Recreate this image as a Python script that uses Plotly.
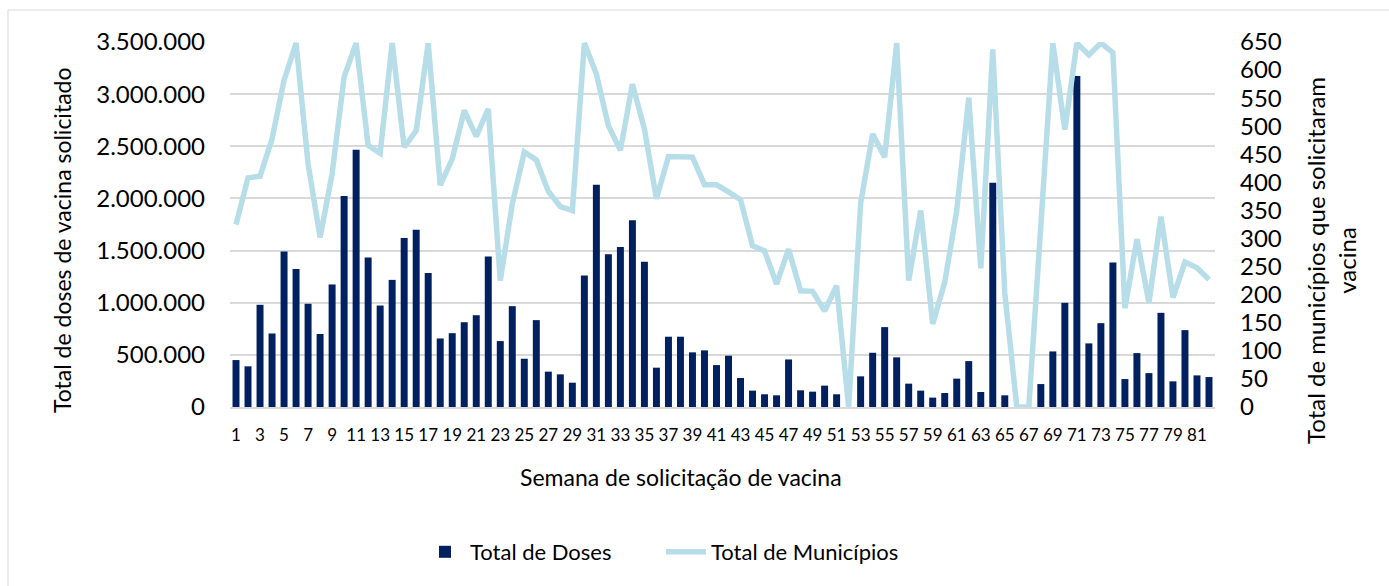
import plotly.graph_objects as go

weeks = list(range(1, 83))

total_doses = [
    450000, 390000, 980000, 705000, 1490000, 1324000, 990000, 700000, 1175000, 2023000,
    2466000, 1433000, 973000, 1219000, 1621000, 1700000, 1286000, 657000, 708000, 813000,
    880000, 1442000, 632000, 967000, 463000, 833000, 339000, 313000, 233000, 1260000,
    2131000, 1464000, 1535000, 1790000, 1394000, 377000, 674000, 674000, 524000, 543000,
    402000, 492000, 278000, 157000, 122000, 112000, 456000, 160000, 147000, 205000,
    122000, 0, 294000, 520000, 766000, 476000, 224000, 157000, 90000, 134000,
    272000, 440000, 144000, 2150000, 112000, 0, 0, 220000, 533000, 999000,
    3174000, 610000, 804000, 1385000, 268000, 517000, 325000, 903000, 246000, 737000,
    303000, 287000,
]

total_municipios = [
    325, 408, 411, 477, 582, 648, 433, 302, 415, 588,
    648, 466, 452, 648, 463, 492, 648, 395, 442, 528,
    482, 531, 225, 362, 454, 440, 384, 357, 350, 648,
    593, 501, 457, 575, 495, 371, 446, 446, 445, 396,
    396, 383, 369, 287, 278, 219, 281, 207, 206, 171,
    216, 0, 363, 486, 445, 648, 225, 350, 148, 222,
    350, 551, 247, 637, 203, 0, 0, 323, 648, 494,
    648, 627, 648, 631, 176, 299, 186, 339, 195, 258,
    248, 227,
]

left_ticks = [0, 500000, 1000000, 1500000, 2000000, 2500000, 3000000, 3500000]
left_labels = ["0", "500.000", "1.000.000", "1.500.000", "2.000.000", "2.500.000", "3.000.000", "3.500.000"]
right_ticks = list(range(0, 651, 50))
x_ticks = list(range(1, 82, 2))

FONT = "Lato"
BAR_COLOR = "#002060"
LINE_COLOR = "#b7dee8"

fig = go.Figure()
fig.add_trace(go.Bar(
    x=weeks, y=total_doses, name="Total de Doses",
    marker=dict(color=BAR_COLOR, line=dict(width=0)),
    yaxis="y",
))
fig.add_trace(go.Scatter(
    x=weeks, y=total_municipios, name="Total de Municípios",
    mode="lines", line=dict(color=LINE_COLOR, width=5.5),
    yaxis="y2",
))

W, H = 1389, 586
L, R, T, B = 230, 174, 42, 179
pw, ph = W - L - R, H - T - B

def px_x(x):
    return (x - L) / pw

def px_y(y):
    return (H - B - y) / ph

fig.update_layout(
    width=W, height=H,
    margin=dict(l=L, r=R, t=T, b=B, autoexpand=False),
    paper_bgcolor="white", plot_bgcolor="white",
    font=dict(family=FONT, color="#000000"),
    bargap=0.42,
    showlegend=True,
    legend=dict(
        orientation="h", x=px_x(420), xanchor="left", y=px_y(552), yanchor="middle",
        font=dict(size=22, family=FONT), itemwidth=40, traceorder="normal",
        entrywidth=186, entrywidthmode="pixels",
    ),
    xaxis=dict(
        range=[0.5, 82.5], tickmode="array", tickvals=x_ticks,
        ticktext=[str(v) for v in x_ticks],
        tickfont=dict(size=17, family=FONT), tickangle=0,
        showgrid=False, showline=True, linecolor="#d9d9d9", linewidth=1.5,
        ticks="", zeroline=False, ticklabelstandoff=12, automargin=False,
    ),
    yaxis=dict(
        range=[0, 3500000], tickmode="array", tickvals=left_ticks, ticktext=left_labels,
        tickfont=dict(size=24, family=FONT),
        showgrid=True, gridcolor="#d9d9d9", gridwidth=1.5,
        zeroline=False, showline=False, ticks="", ticklabelstandoff=24, automargin=False,
    ),
    yaxis2=dict(
        range=[0, 650], tickmode="array", tickvals=right_ticks,
        ticktext=[str(v) for v in right_ticks],
        tickfont=dict(size=24, family=FONT),
        overlaying="y", side="right", showgrid=False, zeroline=False,
        showline=False, ticks="", ticklabelstandoff=24, automargin=False,
    ),
    shapes=[dict(
        type="rect", xref="paper", yref="paper",
        x0=px_x(8), x1=px_x(1420), y0=px_y(640), y1=px_y(10),
        line=dict(color="#d9d9d9", width=1), fillcolor="rgba(0,0,0,0)", layer="below",
    )],
    annotations=[
        dict(text="Total de doses de vacina solicitado", xref="paper", yref="paper",
             x=px_x(62), y=px_y(240), textangle=-90, showarrow=False,
             font=dict(size=23, family=FONT), xanchor="center", yanchor="middle"),
        dict(text="Total de municípios que solicitaram<br>vacina", xref="paper", yref="paper",
             x=px_x(1331), y=px_y(261), textangle=-90, showarrow=False,
             font=dict(size=24, family=FONT), xanchor="center", yanchor="middle"),
        dict(text="Semana de solicitação de vacina", xref="paper", yref="paper",
             x=px_x(681), y=px_y(477), showarrow=False,
             font=dict(size=23, family=FONT), xanchor="center", yanchor="middle"),
    ],
)

fig.write_html(
    "out.html",
    config={"displayModeBar": False},
    post_script="document.body.style.margin='0';document.body.style.overflow='hidden';",
)
